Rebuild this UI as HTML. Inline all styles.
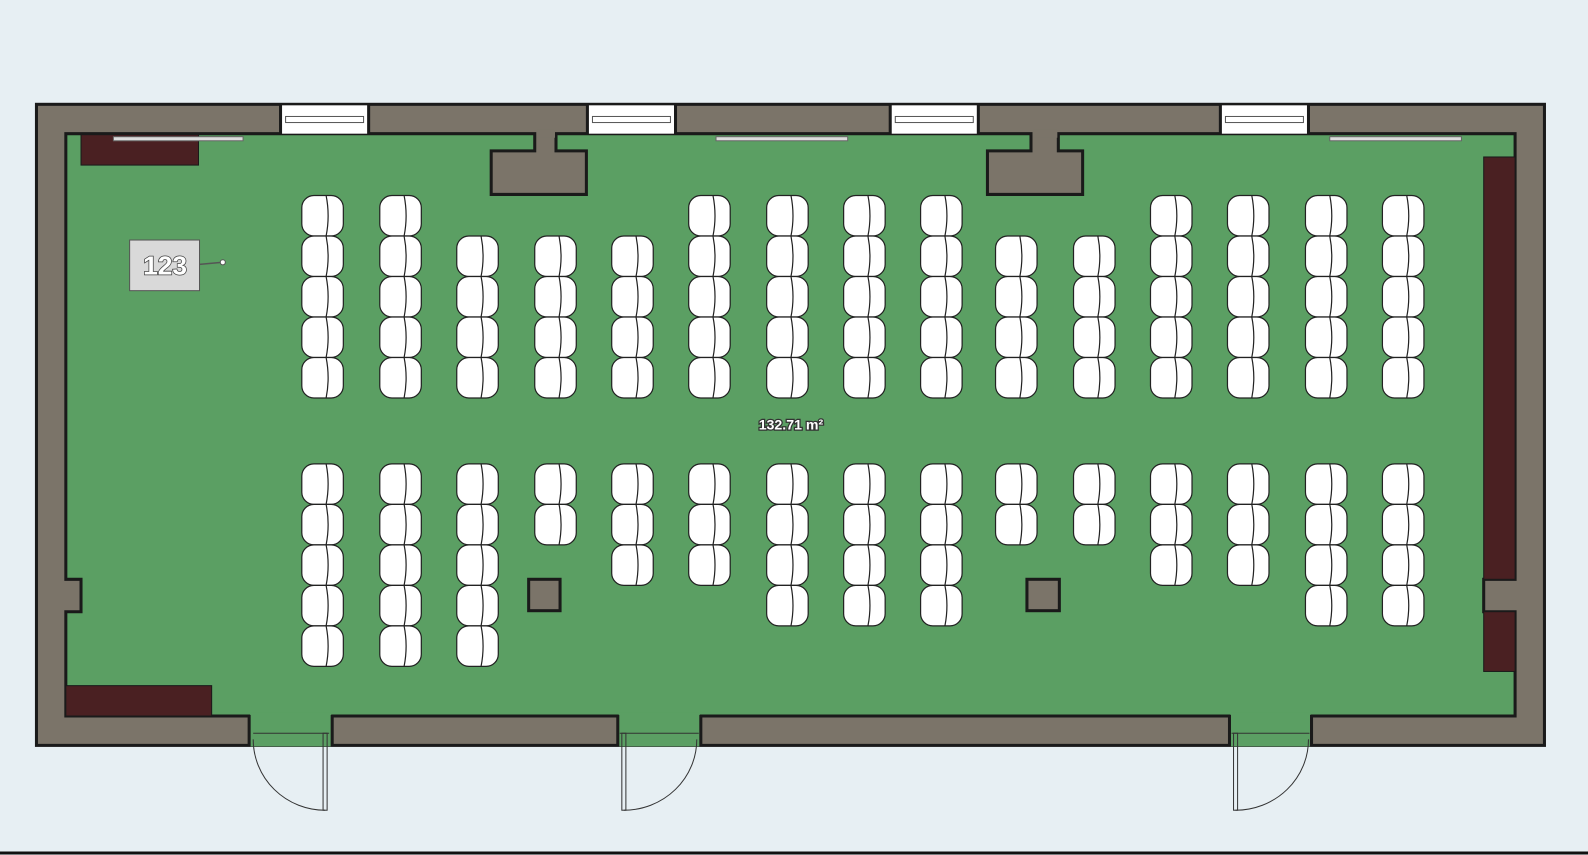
<!DOCTYPE html>
<html><head><meta charset="utf-8"><style>
html,body{margin:0;padding:0;background:#e7eff3;width:1588px;height:855px;overflow:hidden}
svg{display:block}
</style></head><body>
<svg id="s" width="1588" height="855" viewBox="0 0 1588 855" xmlns="http://www.w3.org/2000/svg">
<defs>
<g id="ch">
<rect x="0" y="0" width="41" height="40" rx="12" ry="12" fill="#fff" stroke="#222" stroke-width="1.2"/>
<path d="M24 0 Q28 20 24 40" fill="none" stroke="#222" stroke-width="1.2"/>
</g>
</defs>
<rect x="0" y="0" width="1588" height="855" fill="#e7eff3"/>
<line x1="0" y1="853" x2="1588" y2="853" stroke="#111" stroke-width="3"/>
<g transform="scale(1.01276)">
<rect x="36" y="103" width="1489" height="633" fill="#7b7469" stroke="#1a1a1a" stroke-width="3"/>
<path d="M65 132 H528 V149 H485 V192 H579 V149 H549 V132 H1018 V149 H975 V192 H1069 V149 H1045 V132 H1496 V572 H1465 V604 H1496 V707 H65 V604 H80 V572 H65 Z" fill="#5b9f63" stroke="#1a1a1a" stroke-width="3"/>
<rect x="530" y="128" width="18" height="8" fill="#7b7469"/>
<rect x="1020" y="128" width="24" height="8" fill="#7b7469"/>
<rect x="247" y="704" width="80" height="33" fill="#5b9f63"/>
<rect x="611" y="704" width="80" height="33" fill="#5b9f63"/>
<rect x="1215" y="704" width="79" height="33" fill="#5b9f63"/>
<g stroke="#1a1a1a" stroke-width="3">
<line x1="246" y1="706" x2="246" y2="737"/><line x1="328" y1="706" x2="328" y2="737"/>
<line x1="610" y1="706" x2="610" y2="737"/><line x1="692" y1="706" x2="692" y2="737"/>
<line x1="1214" y1="706" x2="1214" y2="737"/><line x1="1295" y1="706" x2="1295" y2="737"/>
</g>
<g fill="none" stroke="#333" stroke-width="1">
<line x1="250" y1="724" x2="325" y2="724"/>
<rect x="319" y="724" width="4" height="76"/>
<path d="M250 730 A71 70 0 0 0 321 800"/>
<line x1="612" y1="724" x2="690" y2="724"/>
<rect x="614" y="724" width="4" height="76"/>
<path d="M688 730 A72 70 0 0 1 616 800"/>
<line x1="1216" y1="724" x2="1293" y2="724"/>
<rect x="1218" y="724" width="4" height="76"/>
<path d="M1292 730 A72 70 0 0 1 1220 800"/>
</g>
<rect x="277" y="104" width="87" height="28" fill="#fff"/>
<rect x="580" y="104" width="87" height="28" fill="#fff"/>
<rect x="879" y="104" width="87" height="28" fill="#fff"/>
<rect x="1205" y="104" width="87" height="28" fill="#fff"/>
<g fill="none" stroke="#555" stroke-width="1">
<rect x="282" y="115" width="77" height="6"/><rect x="585" y="115" width="77" height="6"/>
<rect x="884" y="115" width="77" height="6"/><rect x="1210" y="115" width="77" height="6"/>
</g>
<g stroke="#1a1a1a" stroke-width="3">
<line x1="277" y1="103" x2="277" y2="133"/><line x1="364" y1="103" x2="364" y2="133"/>
<line x1="580" y1="103" x2="580" y2="133"/><line x1="667" y1="103" x2="667" y2="133"/>
<line x1="879" y1="103" x2="879" y2="133"/><line x1="966" y1="103" x2="966" y2="133"/>
<line x1="1205" y1="103" x2="1205" y2="133"/><line x1="1292" y1="103" x2="1292" y2="133"/>
</g>
<g fill="#4a2022" stroke="#1a1a1a" stroke-width="1">
<rect x="80" y="133" width="116" height="30"/>
<rect x="65" y="677" width="144" height="30"/>
<rect x="1465" y="155" width="31" height="417"/>
<rect x="1465" y="604" width="31" height="59"/>
</g>
<g fill="#ddd" stroke="#666" stroke-width="1">
<rect x="112" y="135" width="128" height="4"/>
<rect x="707" y="135" width="130" height="4"/>
<rect x="1313" y="135" width="130" height="4"/>
</g>
<rect x="522" y="572" width="31" height="31" fill="#7b7469" stroke="#1a1a1a" stroke-width="3"/>
<rect x="1014" y="572" width="32" height="31" fill="#7b7469" stroke="#1a1a1a" stroke-width="3"/>
<rect x="128" y="237" width="69" height="50" fill="#d9d9d9" stroke="#555" stroke-width="1"/>
<line x1="197" y1="261" x2="220" y2="259" stroke="#555" stroke-width="1.5"/>
<circle cx="220" cy="259" r="2.5" fill="#fff" stroke="#555"/>
<text x="163" y="271" font-family="Liberation Sans, sans-serif" font-size="26" font-weight="bold" text-anchor="middle" fill="#fff" stroke="#444" stroke-width="1.5" paint-order="stroke">123</text>
<text x="781" y="424" font-family="Liberation Sans, sans-serif" font-size="14" font-weight="bold" text-anchor="middle" fill="#fff" stroke="#333" stroke-width="2.5" paint-order="stroke">132.71 m²</text>
<g id="chairs"></g>
</g>
</svg>
<script>
var xs=[298,375,451,528,604,680,757,833,909,983,1060,1136,1212,1289,1365];
var topStart=[0,0,1,1,1,0,0,0,0,1,1,0,0,0,0];
var botCnt=[5,5,5,2,3,3,4,4,4,2,2,3,3,4,4];
var g=document.getElementById('chairs'),h='';
for(var i=0;i<15;i++){
 for(var r=topStart[i];r<5;r++)h+='<use href="#ch" x="'+xs[i]+'" y="'+(193+r*40)+'"/>';
 for(var r=0;r<botCnt[i];r++)h+='<use href="#ch" x="'+xs[i]+'" y="'+(458+r*40)+'"/>';
}
g.innerHTML=h;
</script>
</body></html>
